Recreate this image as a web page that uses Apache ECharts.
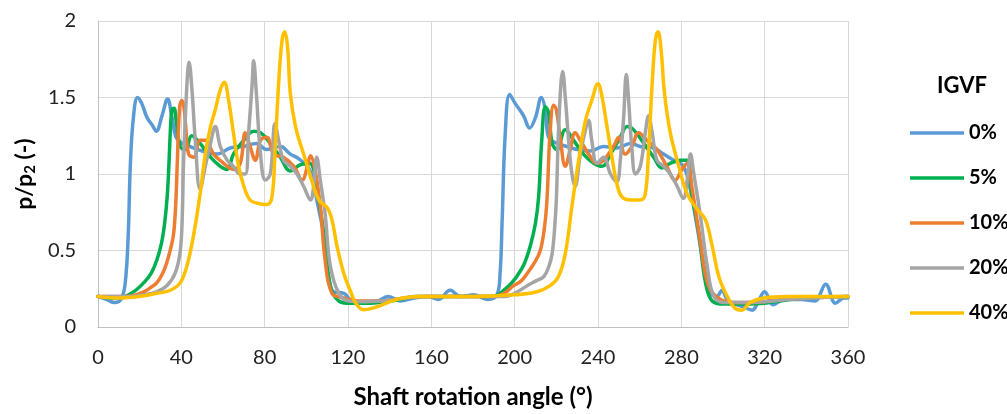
<!DOCTYPE html>
<html>
<head>
<meta charset="utf-8">
<script src="https://cdn.jsdelivr.net/npm/echarts@6/dist/echarts.min.js"></script>
<style>
html,body{margin:0;padding:0;background:#fff;}
#c{width:1007px;height:414px;}
</style>
</head>
<body>
<div id="c"></div>
<script>
var seriesNames = ['0%', '5%', '10%', '20%', '40%'];
var xTicks = [0, 40, 80, 120, 160, 200, 240, 280, 320, 360];
var yTicks = [0, 0.5, 1, 1.5, 2];

var igvf0 = [[0,0.2],[4,0.18],[8,0.16],[11,0.18],[13,0.28],[14.5,0.6],[15.5,1.05],[17,1.37],[19,1.5],[21,1.46],[23.5,1.37],[26,1.32],[28,1.28],[30.7,1.38],[33.4,1.49],[35.5,1.37],[37.5,1.24],[40.5,1.2],[44,1.18],[50,1.15],[57,1.13],[63.5,1.17],[70,1.18],[76,1.2],[81,1.16],[87.5,1.18],[92.3,1.13],[96.3,1.1],[101,1.04],[103,0.97],[105,0.83],[108.4,0.6],[110.7,0.33],[113,0.23],[118,0.22],[122,0.17],[128,0.16],[134,0.17],[139.5,0.2],[145,0.17],[152,0.19],[158,0.2],[163.5,0.18],[169,0.24],[174,0.2],[180.5,0.21],[187,0.18],[191.5,0.21],[193,0.35],[194,0.7],[195.5,1.27],[197.6,1.52],[200.3,1.46],[204.3,1.38],[207.2,1.3],[210,1.37],[212.8,1.5],[214.7,1.42],[216.3,1.24],[220.3,1.2],[225,1.18],[230,1.16],[236.3,1.15],[242.7,1.18],[249,1.17],[255.5,1.2],[260.3,1.18],[266.7,1.17],[271.5,1.13],[276.3,1.09],[281,1.05],[284.3,0.9],[287.5,0.66],[290.8,0.4],[294,0.22],[297,0.2],[299.5,0.24],[302,0.18],[306,0.15],[310,0.13],[314,0.11],[317,0.17],[320,0.23],[324,0.145],[329.5,0.18],[337.5,0.18],[344,0.17],[349.3,0.28],[354,0.155],[358,0.19],[360,0.19]];

var igvf5 = [[0,0.2],[8,0.19],[13,0.2],[16,0.22],[19,0.25],[22,0.29],[25.5,0.35],[28.3,0.44],[30.5,0.55],[32,0.68],[33.2,0.85],[34,1.05],[34.8,1.3],[35.5,1.42],[36.5,1.43],[37.5,1.35],[39.5,1.18],[42,1.16],[45,1.25],[49,1.2],[54,1.11],[58.7,1.05],[62,1.03],[65,1.13],[70,1.22],[74.7,1.28],[78,1.27],[82.7,1.2],[87.5,1.11],[92.3,1.02],[97,1.06],[101.5,1.07],[103.5,1.03],[105,0.92],[108.4,0.61],[111.5,0.27],[115.6,0.17],[121,0.155],[130,0.155],[138,0.165],[145,0.18],[152,0.2],[170,0.2],[188,0.2],[192,0.21],[194.7,0.24],[198,0.28],[201,0.33],[204.5,0.41],[207.5,0.53],[210,0.68],[211.5,0.85],[213,1.22],[214.7,1.44],[216.3,1.4],[218,1.2],[220.3,1.16],[224.3,1.29],[228.3,1.22],[233,1.13],[238,1.07],[242,1.05],[246,1.13],[250.7,1.24],[254,1.31],[257,1.29],[262,1.2],[266.7,1.11],[270.7,1.04],[274.7,1.07],[279.6,1.09],[282.8,1.09],[285,0.87],[288.4,0.61],[291.6,0.29],[294.8,0.17],[300.4,0.15],[310,0.15],[320,0.155],[330,0.175],[340,0.19],[360,0.2]];

var igvf10 = [[0,0.2],[14,0.2],[18,0.21],[22,0.23],[25.5,0.26],[28.3,0.29],[31,0.35],[33,0.42],[35,0.52],[36.3,0.61],[37.3,0.8],[38,1.05],[39.2,1.44],[40.3,1.48],[41.2,1.44],[42,1.33],[43.5,1.13],[46,1.11],[49,1.22],[51.5,1.22],[55.5,1.13],[60.3,1.07],[65,1.03],[68.3,1.07],[70.7,1.27],[73,1.18],[75.5,1.09],[78,1.22],[81,1.24],[84.3,1.13],[89,1.11],[94,1.05],[98,0.96],[100.5,1.05],[102,1.12],[104,1.04],[106.7,0.79],[109,0.44],[112.3,0.22],[118,0.19],[125,0.17],[135,0.17],[145,0.185],[155,0.2],[190,0.2],[195,0.22],[199.5,0.27],[203,0.3],[206,0.35],[209.5,0.42],[212.3,0.5],[214.3,0.65],[215.5,0.83],[217,1.27],[218.7,1.45],[220,1.42],[222,1.22],[224.3,1.05],[226.7,1.16],[229,1.27],[231.5,1.22],[235.5,1.13],[239.5,1.07],[242.7,1.09],[247.5,1.18],[250,1.24],[253,1.13],[256.3,1.18],[259.5,1.27],[263.5,1.22],[268.3,1.16],[273,1.05],[277,0.96],[280.3,1.03],[282.8,1.07],[285,0.92],[289,0.57],[293,0.27],[298.8,0.18],[306.8,0.16],[315,0.16],[325,0.175],[340,0.19],[360,0.2]];

var igvf20 = [[0,0.2],[15,0.2],[22,0.21],[28,0.23],[33,0.27],[37,0.35],[39.5,0.5],[40.5,0.75],[41,1.05],[42.7,1.59],[43.7,1.73],[45,1.57],[46.7,1.22],[49,0.9],[51.5,1.05],[54,1.2],[56.3,1.31],[58.7,1.18],[62,1.09],[65,1.05],[68.3,1.0],[70.7,1.0],[72.3,1.27],[74,1.59],[74.7,1.74],[76,1.53],[78,1.13],[80.3,0.96],[82.7,1.0],[85,1.33],[86.7,1.22],[89,1.09],[92.3,1.05],[95.5,1.0],[98.7,0.92],[102,0.83],[103.5,0.92],[105,1.11],[106.7,0.96],[109,0.74],[111.5,0.4],[115.6,0.22],[120.4,0.17],[128,0.165],[140,0.175],[150,0.195],[160,0.2],[195,0.2],[200,0.22],[206,0.27],[210,0.3],[214,0.33],[216.5,0.4],[218,0.48],[219.2,0.65],[220,0.83],[221,1.27],[222.2,1.59],[223,1.67],[224.3,1.5],[226,1.2],[227.5,1.0],[229,0.92],[231.5,1.13],[234,1.29],[235.5,1.35],[237,1.22],[239.5,1.07],[242.7,1.11],[246,1.0],[249,0.95],[250.7,1.09],[252.3,1.37],[253.6,1.65],[254.7,1.48],[256.3,1.16],[258,1.0],[260.3,1.05],[262.7,1.27],[264.3,1.38],[266,1.27],[268.3,1.09],[271.5,1.05],[274.7,1.0],[278,0.92],[281,0.84],[282.8,0.96],[284.4,1.13],[286,1.0],[289,0.74],[292.4,0.4],[295.6,0.2],[300.4,0.16],[310,0.16],[320,0.165],[335,0.185],[360,0.2]];

var igvf40 = [[0,0.2],[10,0.19],[20,0.2],[28.3,0.22],[34.7,0.24],[39.5,0.29],[42.7,0.4],[46,0.61],[49,0.87],[51.5,1.13],[54,1.31],[56.3,1.42],[58.7,1.55],[60.6,1.6],[62.7,1.48],[65,1.27],[67.5,1.05],[70,0.92],[73,0.83],[76.3,0.81],[81,0.8],[83.5,0.85],[85,1.16],[86.7,1.59],[88.3,1.87],[89.6,1.93],[91,1.83],[92.3,1.53],[94.8,1.31],[98.7,1.13],[103,0.94],[106,0.83],[110,0.78],[112.3,0.7],[114.7,0.53],[118,0.35],[121,0.24],[124,0.15],[127.5,0.113],[131,0.12],[135.5,0.14],[141,0.17],[146,0.19],[154,0.2],[180,0.2],[199.5,0.21],[210.7,0.23],[217,0.27],[221,0.33],[224.3,0.48],[227.5,0.79],[230.7,1.09],[234,1.35],[237,1.48],[240,1.59],[242,1.5],[244.3,1.31],[246.7,1.11],[249,0.94],[251.5,0.85],[255.5,0.83],[260.3,0.83],[262.7,0.87],[264.3,1.16],[266,1.59],[267.5,1.87],[268.8,1.93],[270.3,1.81],[271.9,1.53],[274.7,1.27],[278.8,1.05],[282.8,0.87],[287.6,0.77],[291.6,0.7],[294.8,0.53],[298,0.33],[302,0.2],[306,0.12],[309,0.11],[313,0.16],[319.6,0.19],[330.8,0.2],[360,0.2]];

var colors = ['#5B9BD5', '#00B050', '#ED7D31', '#A5A5A5', '#FFC000'];
var allData = [igvf0, igvf5, igvf10, igvf20, igvf40];
var FONT = 'Lato, "Open Sans", sans-serif';

var chart = echarts.init(document.getElementById('c'), null, {renderer: 'canvas'});

var series = seriesNames.map(function (n, i) {
  return {
    name: n,
    type: 'line',
    data: allData[i],
    smooth: 0.4,
    showSymbol: false,
    symbol: 'none',
    lineStyle: {width: 3.5, color: colors[i], cap: 'round', join: 'round'},
    itemStyle: {color: colors[i]},
    z: 2 + i
  };
});

chart.setOption({
  animation: false,
  color: colors,
  grid: {left: 98, right: 159, top: 21, bottom: 87, containLabel: false},
  graphic: [{
    type: 'text',
    x: 962, y: 86,
    style: {text: 'IGVF', font: 'bold 22px ' + FONT, fill: '#000', textAlign: 'center', textVerticalAlign: 'middle'}
  }],
  legend: {
    orient: 'vertical',
    left: 905,
    top: 118,
    itemWidth: 54,
    itemHeight: 14,
    itemGap: 25,
    itemTextGap: 5,
    icon: 'path://M0,0 L54,0 L54,3.5 L0,3.5 Z',
    textStyle: {fontFamily: FONT, fontWeight: 'bold', fontSize: 20, color: '#000', lineHeight: 20},
    data: seriesNames.map(function (n, i) { return {name: n, itemStyle: {color: colors[i]}}; })
  },
  xAxis: {
    type: 'value',
    min: xTicks[0],
    max: xTicks[xTicks.length - 1],
    interval: xTicks[1] - xTicks[0],
    name: 'Shaft rotation angle (°)',
    nameLocation: 'middle',
    nameGap: 58,
    nameTextStyle: {fontFamily: FONT, fontWeight: 'bold', fontSize: 24, color: '#000'},
    axisLine: {show: true, lineStyle: {color: '#BFBFBF', width: 1}},
    axisTick: {show: false},
    axisLabel: {margin: 21, fontFamily: FONT, fontSize: 20, color: '#222'},
    splitLine: {show: true, lineStyle: {color: '#D9D9D9', width: 1}}
  },
  yAxis: {
    type: 'value',
    min: yTicks[0],
    max: yTicks[yTicks.length - 1],
    interval: yTicks[1] - yTicks[0],
    name: '{a|p/p}{b|2}{a| (-)}',
    nameLocation: 'middle',
    nameGap: 58,
    nameTextStyle: {
      fontFamily: FONT, fontWeight: 'bold', fontSize: 23, color: '#000',
      rich: {
        a: {fontFamily: FONT, fontWeight: 'bold', fontSize: 23, color: '#000'},
        b: {fontFamily: FONT, fontWeight: 'bold', fontSize: 15, color: '#000', padding: [11, 0, 0, 0]}
      }
    },
    axisLine: {show: true, lineStyle: {color: '#BFBFBF', width: 1}},
    axisTick: {show: false},
    axisLabel: {margin: 22, fontFamily: FONT, fontSize: 20, color: '#222'},
    splitLine: {show: true, lineStyle: {color: '#D9D9D9', width: 1}}
  },
  series: series
});
</script>
</body>
</html>
